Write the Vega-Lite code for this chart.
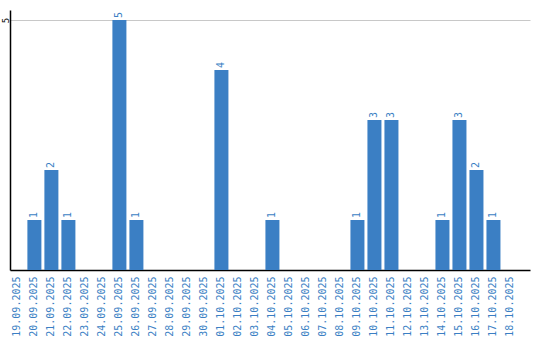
{
  "$schema": "https://vega.github.io/schema/vega-lite/v6.json",
  "width": 520,
  "height": 260,
  "autosize": "none",
  "padding": {"left": 10, "top": 10, "right": 10, "bottom": 70},
  "background": "white",
  "config": {"view": {"stroke": null}},
  "data": {"values": [
    {"date": "19.09.2025", "count": 0},
    {"date": "20.09.2025", "count": 1},
    {"date": "21.09.2025", "count": 2},
    {"date": "22.09.2025", "count": 1},
    {"date": "23.09.2025", "count": 0},
    {"date": "24.09.2025", "count": 0},
    {"date": "25.09.2025", "count": 5},
    {"date": "26.09.2025", "count": 1},
    {"date": "27.09.2025", "count": 0},
    {"date": "28.09.2025", "count": 0},
    {"date": "29.09.2025", "count": 0},
    {"date": "30.09.2025", "count": 0},
    {"date": "01.10.2025", "count": 4},
    {"date": "02.10.2025", "count": 0},
    {"date": "03.10.2025", "count": 0},
    {"date": "04.10.2025", "count": 1},
    {"date": "05.10.2025", "count": 0},
    {"date": "06.10.2025", "count": 0},
    {"date": "07.10.2025", "count": 0},
    {"date": "08.10.2025", "count": 0},
    {"date": "09.10.2025", "count": 1},
    {"date": "10.10.2025", "count": 3},
    {"date": "11.10.2025", "count": 3},
    {"date": "12.10.2025", "count": 0},
    {"date": "13.10.2025", "count": 0},
    {"date": "14.10.2025", "count": 1},
    {"date": "15.10.2025", "count": 3},
    {"date": "16.10.2025", "count": 2},
    {"date": "17.10.2025", "count": 1},
    {"date": "18.10.2025", "count": 0}
  ]},
  "encoding": {
    "x": {
      "field": "date", "type": "ordinal", "sort": null,
      "scale": {"paddingInner": 0.176, "paddingOuter": 0.38, "align": 0.03},
      "axis": {
        "title": null, "labelAngle": -90, "ticks": false, "labelPadding": 6,
        "labelFont": "DejaVu Sans Mono", "labelFontSize": 10, "labelColor": "#3b7fc4",
        "domainColor": "#000000", "domainWidth": 1.5, "grid": false
      }
    },
    "y": {
      "field": "count", "type": "quantitative",
      "scale": {"domain": [0, 5.2], "nice": false},
      "axis": {
        "title": null, "values": [5], "ticks": false, "labelAngle": -90,
        "labelAlign": "center", "labelBaseline": "alphabetic", "labelPadding": 2,
        "labelFont": "DejaVu Sans Mono", "labelFontSize": 9, "labelColor": "#000000",
        "domainColor": "#000000", "domainWidth": 1.5,
        "grid": true, "gridColor": "#c8c8c8", "gridWidth": 1
      }
    }
  },
  "layer": [
    {"mark": {"type": "bar", "color": "#3b7fc4"}},
    {
      "transform": [{"filter": "datum.count > 0"}],
      "mark": {"type": "text", "angle": 270, "align": "left", "baseline": "middle", "dx": 2,
               "font": "DejaVu Sans Mono", "fontSize": 10, "color": "#3b7fc4"},
      "encoding": {"text": {"field": "count", "type": "quantitative"}}
    }
  ]
}
